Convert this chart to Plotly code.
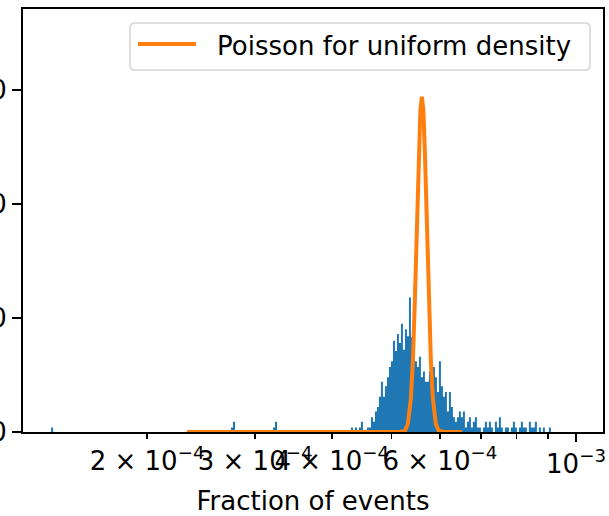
import numpy as np
import plotly.graph_objects as go

# ---------------- data ----------------
hist_lo = 1.395e-4
hist_hi = 9.1e-4
n_bins = 250
isolated_bins = [0, 90, 91, 111, 112]
isolated_counts = [4, 4, 9, 4, 9]
cluster_start = 144
cluster_counts = [
    0, 0, 0, 0, 0, 0,
    4, 0, 4, 0, 4, 9, 0, 0, 4, 4,
    13, 9, 18, 22, 31, 44, 31, 40, 48, 57,
    62, 80, 71, 86, 78, 95, 72, 90, 84, 118,
    83, 70, 62, 57, 66, 48, 53, 44, 44, 53,
    40, 57, 48, 35, 62, 40, 31, 35, 18, 35,
    22, 13, 9, 13, 18, 13, 18, 4, 9, 13,
    4, 9, 13, 4, 4, 0, 4, 9, 4, 9,
    4, 0, 9, 4, 13, 4, 0, 4, 4, 0,
    4, 9, 4, 0, 4, 9, 4, 4, 0, 9,
    4, 4, 9, 0, 4, 0, 4, 0, 0, 4,
]

poisson_x = [2.323e-4, 3.549e-4, 4.790e-4, 5.164e-4, 5.261e-4, 5.321e-4, 5.381e-4,
             5.422e-4, 5.462e-4, 5.504e-4, 5.546e-4, 5.577e-4, 5.608e-4, 5.640e-4,
             5.671e-4, 5.715e-4, 5.757e-4, 5.801e-4, 5.845e-4, 5.910e-4, 5.977e-4,
             6.113e-4, 6.516e-4]
poisson_y = [0, 0, 0, 0, 1, 7, 29, 62, 115, 182, 247, 282, 294, 282, 247, 182, 115,
             62, 29, 7, 1, 0, 0]

xtick_vals = [2e-4, 3e-4, 4e-4, 6e-4]
xtick_text = ["2 × 10<sup>−4</sup>", "3 × 10<sup>−4</sup>",
              "4 × 10<sup>−4</sup>", "6 × 10<sup>−4</sup>"]
xminor_vals = [5e-4, 7e-4, 8e-4, 9e-4]
xmajor_vals = [1e-3]
xmajor_text = ["10<sup>−3</sup>"]
ytick_vals = [0, 100, 200, 300]
ytick_text = ["0", "100", "200", "300"]

legend_label = "Poisson for uniform density"
x_title = "Fraction of events"

# ---------------- build ----------------
counts = np.zeros(n_bins)
counts[cluster_start:cluster_start + len(cluster_counts)] = cluster_counts
for b, c in zip(isolated_bins, isolated_counts):
    counts[b] = c
edges = np.geomspace(hist_lo, hist_hi, n_bins + 1)
step_x = list(edges)
step_y = list(counts) + [counts[-1]]

BLUE = "#1f77b4"
ORANGE = "#ff7f0e"
FONT = "DejaVu Sans"
FS = 26

W, H = 609, 516
L, R, T, B = 23, 6, 9, 84
PW, PH = W - L - R, H - T - B

xr = [np.log10(1.2555e-4), np.log10(1.1066e-3)]
yr = [0, 370.8]

fig = go.Figure()
fig.add_trace(go.Scatter(
    x=step_x, y=step_y, mode="lines", line=dict(width=0, shape="hv", color=BLUE),
    fill="tozeroy", fillcolor=BLUE, showlegend=False, hoverinfo="skip"))
fig.add_trace(go.Scatter(
    x=poisson_x, y=poisson_y, mode="lines", line=dict(width=4, color=ORANGE),
    name=legend_label, showlegend=False))
# carrier trace so that the overlaid major-tick axis is drawn
fig.add_trace(go.Scatter(
    x=xmajor_vals, y=[0], xaxis="x2", mode="markers", marker=dict(opacity=0),
    showlegend=False, hoverinfo="skip"))


def px2paper_x(px):
    return (px - L) / PW


def py2paper_y(py):
    return (H - B - py) / PH


# manual legend
x0, x1 = px2paper_x(130), px2paper_x(590)
y0, y1 = py2paper_y(70), py2paper_y(23)
rx, ry = 5 / PW, 5 / PH
path = (f"M {x0+rx},{y1} L {x1-rx},{y1} Q {x1},{y1} {x1},{y1-ry} "
        f"L {x1},{y0+ry} Q {x1},{y0} {x1-rx},{y0} L {x0+rx},{y0} "
        f"Q {x0},{y0} {x0},{y0+ry} L {x0},{y1-ry} Q {x0},{y1} {x0+rx},{y1} Z")
fig.add_shape(type="path", path=path, xref="paper", yref="paper",
              line=dict(color="#d6d6d6", width=1.6), fillcolor="rgba(255,255,255,0.8)")
fig.add_shape(type="line", xref="paper", yref="paper",
              x0=px2paper_x(138), x1=px2paper_x(196),
              y0=py2paper_y(44), y1=py2paper_y(44),
              line=dict(color=ORANGE, width=4))
fig.add_annotation(text=legend_label, xref="paper", yref="paper",
                   x=px2paper_x(215), y=py2paper_y(46), xanchor="left", yanchor="middle",
                   showarrow=False, font=dict(family=FONT, size=FS, color="black"))

fig.update_layout(
    width=W, height=H,
    margin=dict(l=L, r=R, t=T, b=B, autoexpand=False),
    paper_bgcolor="white", plot_bgcolor="white",
    font=dict(family=FONT, size=FS, color="black"),
    showlegend=False,
    xaxis=dict(
        type="log", range=xr, showgrid=False, zeroline=False,
        showline=True, mirror=True, linecolor="black", linewidth=2,
        tickmode="array", tickvals=xtick_vals, ticktext=xtick_text,
        ticks="outside", ticklen=5, tickwidth=1.5, tickcolor="black",
        tickangle=0, tickfont=dict(family=FONT, size=FS),
        minor=dict(tickmode="array", tickvals=xminor_vals, ticks="outside",
                   ticklen=5, tickwidth=1.5, tickcolor="black", showgrid=False),
        title=dict(text=x_title, font=dict(family=FONT, size=FS), standoff=17),
        automargin=False,
    ),
    xaxis2=dict(
        type="log", range=xr, overlaying="x", anchor="y", side="bottom",
        showgrid=False, zeroline=False, showline=False,
        tickmode="array", tickvals=xmajor_vals, ticktext=xmajor_text,
        ticks="outside", ticklen=9, tickwidth=2, tickcolor="black",
        tickangle=0, tickfont=dict(family=FONT, size=FS), automargin=False,
    ),
    yaxis=dict(
        range=yr, showgrid=False, zeroline=False,
        showline=True, mirror=True, linecolor="black", linewidth=2,
        tickmode="array", tickvals=ytick_vals, ticktext=ytick_text,
        ticks="outside", ticklen=9, tickwidth=2, tickcolor="black",
        tickfont=dict(family=FONT, size=FS), automargin=False,
    ),
)

fig.write_html("out.html",
               config={"displayModeBar": False, "staticPlot": True},
               post_script="document.body.style.margin='0';"
                           "document.body.style.overflow='hidden';")
